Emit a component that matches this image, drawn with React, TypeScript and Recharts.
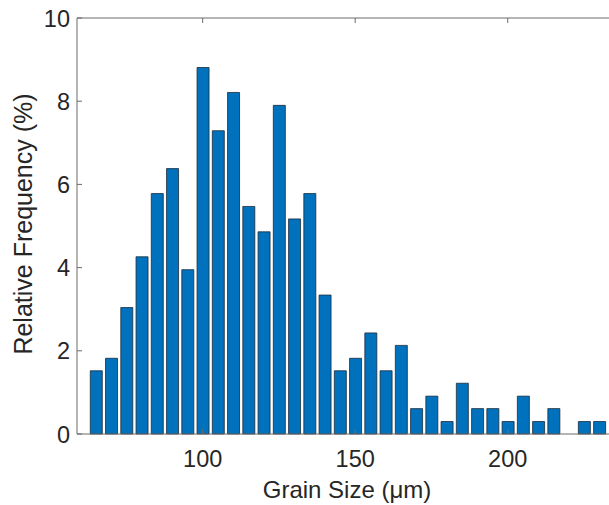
import React from 'react';
import { BarChart, Bar, XAxis, YAxis, ReferenceLine } from 'recharts';

// bin centres (µm) and relative frequency (%)
const binCenters = [
  65, 70, 75, 80, 85, 90, 95, 100, 105, 110, 115, 120, 125, 130, 135, 140, 145,
  150, 155, 160, 165, 170, 175, 180, 185, 190, 195, 200, 205, 210, 215, 220, 225, 230,
];
const frequency = [
  1.52, 1.82, 3.04, 4.26, 5.78, 6.38, 3.95, 8.81, 7.29, 8.21, 5.47, 4.86, 7.90, 5.17, 5.78, 3.34, 1.52,
  1.82, 2.43, 1.52, 2.13, 0.61, 0.91, 0.30, 1.22, 0.61, 0.61, 0.30, 0.91, 0.30, 0.61, 0, 0.30, 0.30,
];
const xTicks = [100, 150, 200];
const yTicks = [0, 2, 4, 6, 8, 10];

const data = binCenters.map((x, i) => ({ x, y: frequency[i] }));

const FONT = '"Liberation Sans", Arial, Helvetica, sans-serif';
const FS = 23.5;
const TEXT = '#262626';
const AXIS = '#6b6b6b';
const PLOT_LEFT = 77;
const PLOT_TOP = 18;
const PLOT_BOTTOM = 434;
const Y_AXIS_W = 60;
const X_AXIS_H = 60;

const BottomTick = (props: any) => {
  const { x, payload } = props;
  return (
    <g>
      <line x1={x} x2={x} y1={PLOT_BOTTOM} y2={PLOT_BOTTOM - 5} stroke={AXIS} />
      <text x={x} y={PLOT_BOTTOM + 33} textAnchor="middle" fontSize={FS} fontFamily={FONT} fill={TEXT}>
        {payload.value}
      </text>
    </g>
  );
};

const TopTick = (props: any) => {
  const { x } = props;
  return <line x1={x} x2={x} y1={PLOT_TOP} y2={PLOT_TOP + 5} stroke={AXIS} />;
};

const LeftTick = (props: any) => {
  const { y, payload } = props;
  return (
    <g>
      <line x1={PLOT_LEFT} x2={PLOT_LEFT + 5} y1={y} y2={y} stroke={AXIS} />
      <text x={PLOT_LEFT - 7} y={y + 8.5} textAnchor="end" fontSize={FS} fontFamily={FONT} fill={TEXT}>
        {payload.value}
      </text>
    </g>
  );
};

export default function App() {
  return (
    <div style={{ position: 'absolute', left: 0, top: 0, width: 609, height: 505, background: '#fff' }}>
      <BarChart
        width={609}
        height={505}
        data={data}
        margin={{ top: PLOT_TOP - 1, right: 0, bottom: 505 - PLOT_BOTTOM - X_AXIS_H, left: PLOT_LEFT - Y_AXIS_W }}
        barSize={12}
        style={{ overflow: 'visible' }}
      >
        <XAxis
          dataKey="x"
          type="number"
          domain={[58.8, 233.2]}
          allowDataOverflow
          ticks={xTicks}
          height={X_AXIS_H}
          axisLine={{ stroke: AXIS }}
          tickLine={false}
          tick={<BottomTick />}
          label={() => (
            <text x={347} y={498} textAnchor="middle" fontSize={24} fontFamily={FONT} fill={TEXT}>
              Grain Size (μm)
            </text>
          )}
        />
        <XAxis
          xAxisId="top"
          dataKey="x"
          type="number"
          orientation="top"
          domain={[58.8, 233.2]}
          allowDataOverflow
          ticks={xTicks}
          height={1}
          axisLine={false}
          tickLine={false}
          tick={<TopTick />}
        />
        <YAxis
          type="number"
          domain={[0, 10]}
          ticks={yTicks}
          width={Y_AXIS_W}
          axisLine={{ stroke: AXIS }}
          tickLine={false}
          tick={<LeftTick />}
          label={() => (
            <text
              x={32}
              y={224}
              transform="rotate(-90 32 224)"
              textAnchor="middle"
              fontSize={25}
              fontFamily={FONT}
              fill={TEXT}
            >
              Relative Frequency (%)
            </text>
          )}
        />
        <ReferenceLine y={10} stroke={AXIS} />
        <Bar dataKey="y" fill="#0072BD" stroke="#1c2b3a" strokeWidth={0.8} isAnimationActive={false} />
      </BarChart>
    </div>
  );
}
